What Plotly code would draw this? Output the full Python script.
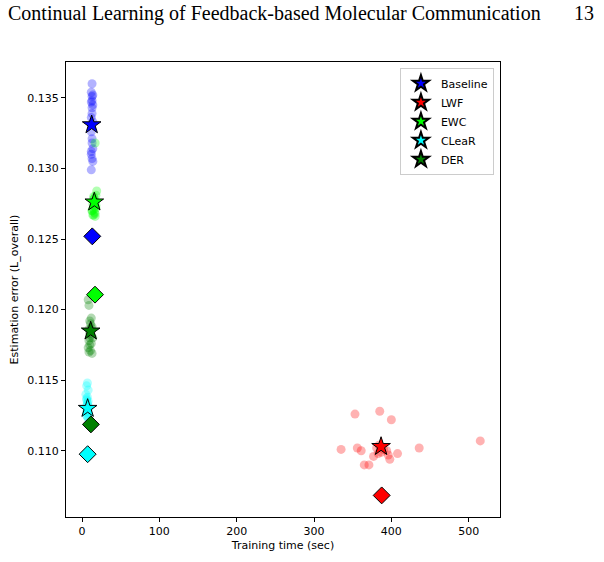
import plotly.graph_objects as go

methods = ["Baseline", "LWF", "EWC", "CLeaR", "DER"]
colors = ["#0000ff", "#ff0000", "#00ff00", "#00ffff", "#008000"]

# individual runs (training time, estimation error)
baseline_t = [13, 12, 14, 13, 12, 14, 13, 12, 13, 14, 12, 13, 14, 12, 13, 13, 14, 12, 13, 12]
baseline_e = [0.1360, 0.1354, 0.1352, 0.1351, 0.1347, 0.1345, 0.1339, 0.1336, 0.1321, 0.1314,
              0.1310, 0.1307, 0.1305, 0.1299, 0.1348, 0.1343, 0.1333, 0.1326, 0.1318, 0.1312]
lwf_t = [353, 385, 400, 335, 356, 361, 377, 381, 387, 396, 398, 408, 436, 515, 365, 371, 394, 384, 390, 383]
lwf_e = [0.1126, 0.1128, 0.1122, 0.1101, 0.1102, 0.1100, 0.1096, 0.1102, 0.1099, 0.1097,
         0.1094, 0.1098, 0.1102, 0.1107, 0.1090, 0.1090, 0.1100, 0.1104, 0.1101, 0.1098]
ewc_t = [17, 19, 18, 16, 15, 17, 14, 16, 18, 15, 13, 16, 17, 14, 15, 18, 16, 13, 17, 15]
ewc_e = [0.1318, 0.1284, 0.1281, 0.1279, 0.1278, 0.1276, 0.1275, 0.1273, 0.1272, 0.1271,
         0.1270, 0.1269, 0.1268, 0.1267, 0.1267, 0.1274, 0.1277, 0.1270, 0.1266, 0.1280]
clear_t = [7, 6, 8, 5, 7, 6, 8, 7, 6, 9, 7, 8, 6, 7, 8, 6, 7, 8, 7, 6]
clear_e = [0.1148, 0.1146, 0.1143, 0.1140, 0.1138, 0.1136, 0.1135, 0.1133, 0.1132, 0.1131,
           0.1130, 0.1129, 0.1128, 0.1127, 0.1126, 0.1125, 0.1124, 0.1123, 0.1134, 0.1137]
der_t = [8, 9, 12, 10, 11, 13, 9, 12, 10, 11, 14, 9, 12, 10, 8, 11, 9, 13, 10, 12]
der_e = [0.1207, 0.1203, 0.1194, 0.1192, 0.1190, 0.1188, 0.1186, 0.1185, 0.1183, 0.1182,
         0.1180, 0.1178, 0.1176, 0.1175, 0.1173, 0.1171, 0.1170, 0.1169, 0.1180, 0.1187]

# mean markers (stars) and second summary markers (diamonds)
star_t = [12.5, 386.7, 15.9, 7.3, 11.2]
star_e = [0.13309, 0.11030, 0.12762, 0.11300, 0.11848]
diamond_t = [13.3, 387.5, 16.8, 7.3, 11.5]
diamond_e = [0.12519, 0.10684, 0.12106, 0.10976, 0.11187]

runs = [(baseline_t, baseline_e), (lwf_t, lwf_e), (ewc_t, ewc_e), (clear_t, clear_e), (der_t, der_e)]

fig = go.Figure()
for (t, e), c in zip(runs, colors):
    fig.add_trace(go.Scatter(x=t, y=e, mode="markers", showlegend=False,
                             marker=dict(color=c, size=9, opacity=0.3, line=dict(width=0))))
for i, (m, c) in enumerate(zip(methods, colors)):
    fig.add_trace(go.Scatter(x=[star_t[i]], y=[star_e[i]], mode="markers", name=m,
                             marker=dict(symbol="star", color=c, size=14,
                                         line=dict(color="black", width=1))))
for i, c in enumerate(colors):
    fig.add_trace(go.Scatter(x=[diamond_t[i]], y=[diamond_e[i]], mode="markers", showlegend=False,
                             marker=dict(symbol="diamond", color=c, size=13,
                                         line=dict(color="black", width=1))))

axis_common = dict(showline=True, linecolor="black", linewidth=1, mirror=True,
                   ticks="outside", ticklen=4, tickcolor="black", showgrid=False, zeroline=False,
                   tickfont=dict(family="DejaVu Sans", size=11, color="black"))
fig.update_xaxes(range=[-20.7, 540.5], tickvals=[0, 100, 200, 300, 400, 500],
                 title=dict(text="Training time (sec)", font=dict(family="DejaVu Sans", size=11, color="black"), standoff=4),
                 **axis_common)
fig.update_yaxes(range=[0.10531, 0.13754], tickvals=[0.110, 0.115, 0.120, 0.125, 0.130, 0.135],
                 tickformat=".3f",
                 title=dict(text="Estimation error (L_overall)", font=dict(family="DejaVu Sans", size=11, color="black"), standoff=6),
                 **axis_common)

fig.update_layout(
    width=604, height=562,
    margin=dict(l=66, r=104, t=62, b=42),
    paper_bgcolor="white", plot_bgcolor="white",
    font=dict(family="DejaVu Sans", size=11, color="black"),
    legend=dict(x=0.986, y=0.987, xanchor="right", yanchor="top",
                bgcolor="white", bordercolor="#cccccc", borderwidth=1,
                font=dict(family="DejaVu Sans", size=11, color="black"),
                tracegroupgap=0, itemsizing="constant"),
    annotations=[
        dict(text="Continual Learning of Feedback-based Molecular Communication",
             xref="paper", yref="paper", x=-60/434, y=1 + 49/458, xanchor="left", yanchor="middle",
             showarrow=False, font=dict(family="Liberation Serif", size=20, color="black")),
        dict(text="13", xref="paper", yref="paper", x=1 + 96/434, y=1 + 49/458,
             xanchor="right", yanchor="middle", showarrow=False,
             font=dict(family="Liberation Serif", size=20, color="black")),
    ],
)

fig.write_html("out.html")
